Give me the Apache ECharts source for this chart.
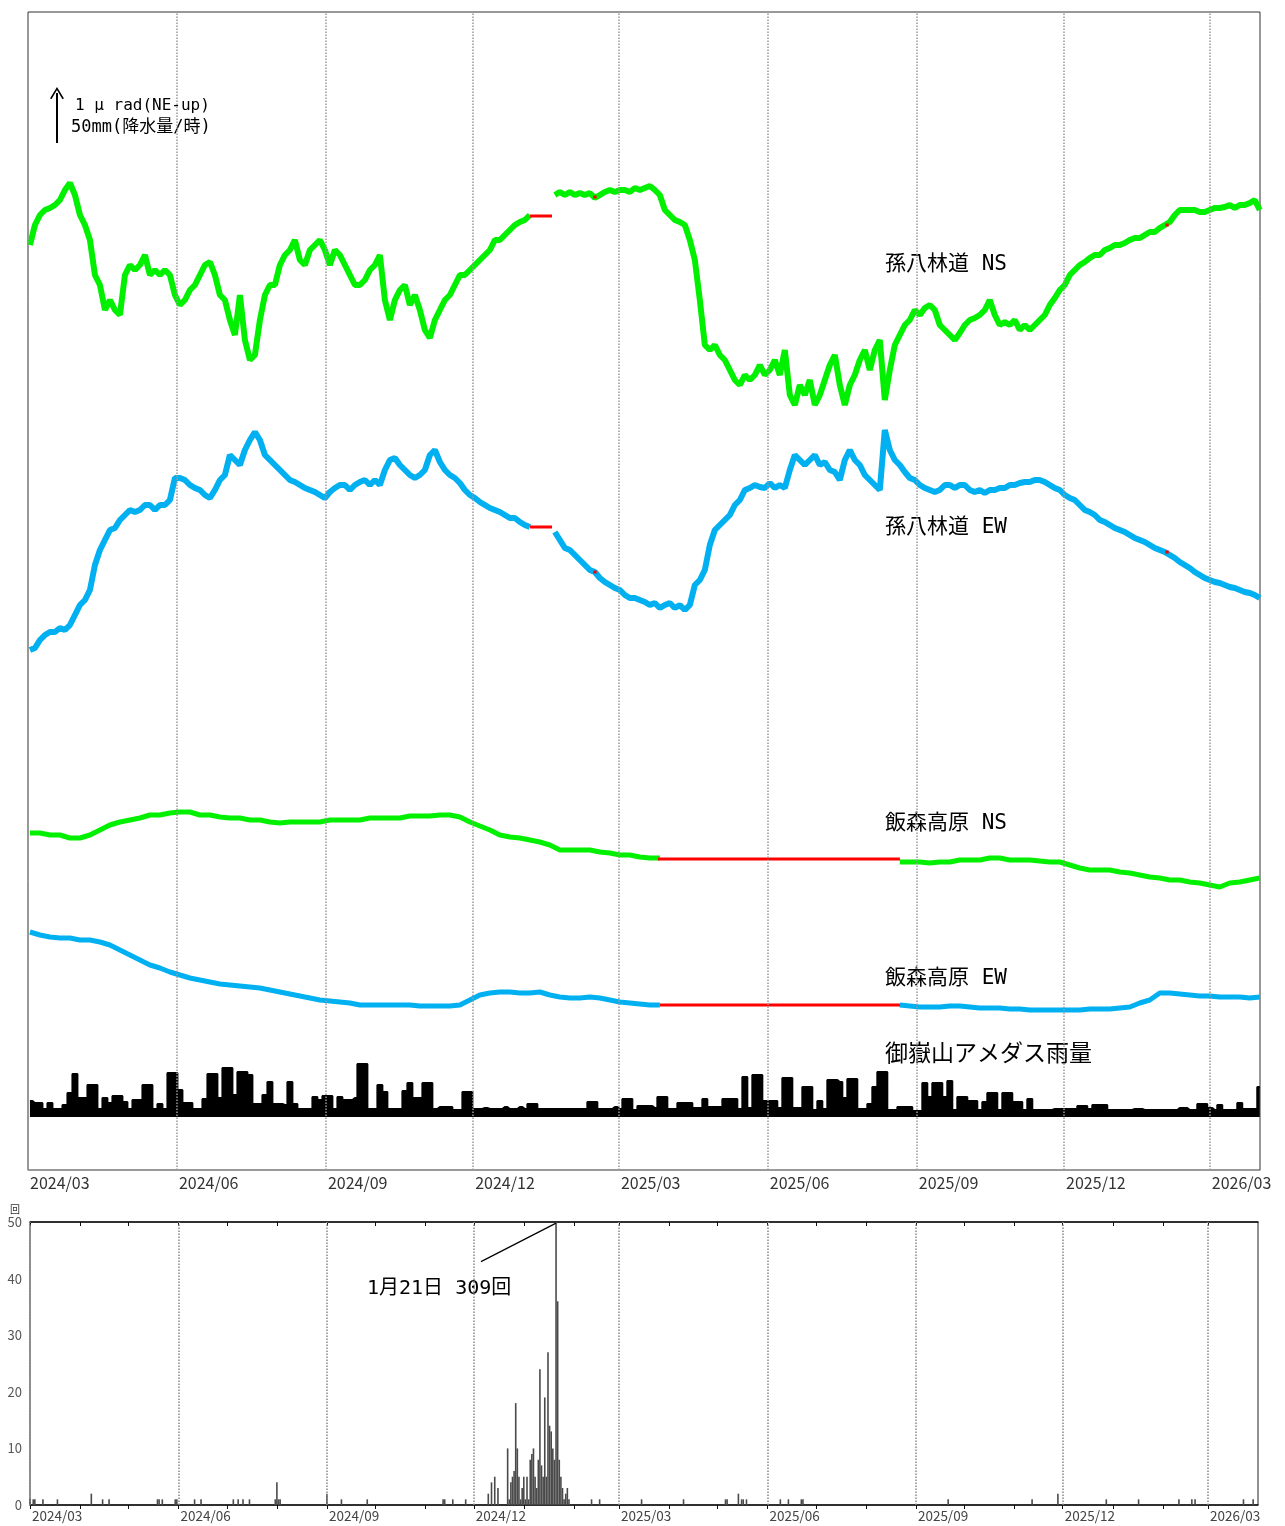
<!DOCTYPE html>
<html><head><meta charset="utf-8">
<script src="https://cdn.jsdelivr.net/npm/echarts@6/dist/echarts.min.js"></script>
<style>html,body{margin:0;padding:0;background:#fff}#c{width:1285px;height:1526px}</style>
</head><body><div id="c"></div><script>
// ---- time axis: days since 2024-03-01 ----
const QUARTER_DAYS = [0, 92, 184, 275, 365, 457, 549, 640, 730];
const QUARTER_LABELS = ['2024/03','2024/06','2024/09','2024/12','2025/03','2025/06','2025/09','2025/12','2026/03'];
const MONTH_DAYS = [0,31,61,92,122,153,184,214,245,275,306,337,365,396,426,457,487,518,549,579,610,640,671,702,730];
const X_MAX = 761;

// sampling of the tilt / rain records (days)
const T0 = 1.2, STEP_FINE = 3.088, STEP_COARSE = 6.176;

// 孫八林道 NS (μrad, relative)
const sonNS = [
3.50,3.90,4.10,4.20,4.24,4.30,4.40,4.60,4.74,4.50,
4.10,3.90,3.60,2.90,2.70,2.20,2.40,2.20,2.10,2.90,
3.10,3.00,3.10,3.30,2.90,3.00,2.90,3.00,2.90,2.50,
2.30,2.40,2.60,2.70,2.90,3.10,3.16,2.90,2.50,2.40,
2.00,1.70,2.50,1.60,1.20,1.30,2.00,2.50,2.70,2.70,
3.10,3.30,3.40,3.60,3.20,3.10,3.40,3.50,3.60,3.40,
3.10,3.40,3.30,3.10,2.90,2.70,2.70,2.80,3.00,3.10,
3.30,2.40,2.00,2.40,2.60,2.70,2.30,2.50,2.20,1.80,
1.64,2.00,2.20,2.40,2.50,2.70,2.90,2.90,3.00,3.10,
3.20,3.30,3.40,3.60,3.60,3.70,3.80,3.90,3.96,4.00,
4.10,null,null,null,null,4.50,4.56,4.50,4.56,4.50,
4.54,4.50,4.54,4.44,4.50,4.56,4.60,4.56,4.60,4.60,
4.56,4.64,4.60,4.64,4.68,4.60,4.50,4.20,4.10,4.00,
3.96,3.90,3.60,3.20,2.40,1.50,1.40,1.50,1.30,1.20,
1.00,0.80,0.70,0.90,0.80,0.90,1.10,0.90,1.00,1.20,
0.90,1.40,0.50,0.30,0.70,0.50,0.80,0.30,0.50,0.80,
1.10,1.30,0.70,0.30,0.70,0.90,1.20,1.40,1.00,1.40,
1.60,0.40,1.00,1.50,1.70,1.90,2.00,2.20,2.10,2.24,
2.30,2.20,1.90,1.80,1.70,1.60,1.74,1.90,2.00,2.04,
2.10,2.20,2.40,2.10,1.90,1.96,1.90,2.00,1.80,1.90,
1.80,1.90,2.00,2.10,2.30,2.44,2.60,2.70,2.90,3.00,
3.10,3.16,3.24,3.30,3.30,3.40,3.44,3.50,3.50,3.54,
3.60,3.64,3.64,3.70,3.76,3.76,3.84,3.90,3.96,4.10,
4.20,4.20,4.20,4.20,4.16,4.16,4.20,4.24,4.24,4.26,
4.30,4.24,4.30,4.30,4.34,4.40,4.20];

// 孫八林道 EW
const sonEW = [
0.20,0.24,0.40,0.50,0.56,0.56,0.64,0.60,0.70,0.90,
1.10,1.20,1.40,1.90,2.20,2.40,2.60,2.64,2.80,2.90,
3.00,2.96,3.00,3.10,3.10,3.00,3.10,3.10,3.20,3.64,
3.64,3.60,3.50,3.44,3.40,3.30,3.24,3.40,3.60,3.70,
4.10,4.00,3.90,4.20,4.40,4.56,4.40,4.10,4.00,3.90,
3.80,3.70,3.60,3.56,3.50,3.44,3.40,3.36,3.30,3.24,
3.36,3.44,3.50,3.50,3.40,3.50,3.56,3.60,3.50,3.60,
3.50,3.80,4.00,4.04,3.90,3.80,3.70,3.64,3.70,3.80,
4.10,4.20,3.96,3.80,3.70,3.64,3.54,3.40,3.30,3.24,
3.16,3.10,3.04,3.00,2.96,2.90,2.84,2.84,2.76,2.70,
2.66,null,null,null,null,2.56,2.40,2.24,2.20,2.10,
2.00,1.90,1.80,1.76,1.64,1.56,1.50,1.44,1.40,1.30,
1.24,1.24,1.20,1.16,1.10,1.14,1.04,1.10,1.14,1.04,
1.10,1.00,1.10,1.50,1.60,1.80,2.30,2.60,2.70,2.80,
2.90,3.10,3.20,3.40,3.44,3.50,3.46,3.44,3.54,3.44,
3.50,3.44,3.80,4.10,4.00,3.90,4.00,4.10,3.90,3.96,
3.80,3.76,3.60,4.00,4.20,4.00,3.90,3.70,3.60,3.50,
3.40,4.60,4.20,4.00,3.90,3.76,3.64,3.60,3.50,3.44,
3.40,3.36,3.40,3.50,3.50,3.44,3.50,3.50,3.40,3.36,
3.40,3.34,3.40,3.40,3.44,3.44,3.50,3.50,3.54,3.56,
3.56,3.60,3.60,3.56,3.50,3.44,3.40,3.30,3.24,3.20,
3.10,3.00,2.96,2.90,2.80,2.76,2.70,2.64,2.60,2.56,
2.50,2.44,2.40,2.36,2.30,2.24,2.20,2.16,2.10,2.04,
1.96,1.90,1.84,1.76,1.70,1.64,1.60,1.56,1.54,1.50,
1.46,1.44,1.40,1.36,1.34,1.30,1.24];

// 飯森高原 NS
const iiNS = [
1.34,1.34,1.30,1.30,1.24,1.24,1.30,1.40,1.50,1.56,
1.60,1.64,1.70,1.70,1.74,1.76,1.76,1.70,1.70,1.66,
1.64,1.64,1.60,1.60,1.56,1.54,1.56,1.56,1.56,1.56,
1.60,1.60,1.60,1.60,1.64,1.64,1.64,1.64,1.68,1.68,
1.68,1.70,1.70,1.66,1.56,1.48,1.40,1.30,1.26,1.24,
1.20,1.16,1.10,1.00,1.00,1.00,1.00,0.96,0.94,0.90,
0.90,0.86,0.84,0.84,null,null,null,null,null,null,
null,null,null,null,null,null,null,null,null,null,
null,null,null,null,null,null,null,0.76,0.76,0.76,
0.74,0.76,0.76,0.80,0.80,0.80,0.84,0.84,0.80,0.80,
0.80,0.78,0.76,0.76,0.70,0.64,0.60,0.60,0.60,0.56,
0.54,0.50,0.46,0.44,0.40,0.40,0.36,0.34,0.30,0.26,
0.34,0.36,0.40,0.44];

// 飯森高原 EW
const iiEW = [
1.76,1.70,1.66,1.64,1.64,1.60,1.60,1.56,1.50,1.40,
1.30,1.20,1.10,1.04,0.96,0.90,0.84,0.80,0.76,0.72,
0.70,0.68,0.66,0.64,0.60,0.56,0.52,0.48,0.44,0.40,
0.38,0.36,0.34,0.30,0.30,0.30,0.30,0.30,0.30,0.28,
0.28,0.28,0.28,0.30,0.40,0.50,0.54,0.56,0.56,0.54,
0.54,0.56,0.50,0.46,0.44,0.44,0.46,0.44,0.40,0.36,
0.34,0.32,0.30,0.30,null,null,null,null,null,null,
null,null,null,null,null,null,null,null,null,null,
null,null,null,null,null,null,null,0.30,0.28,0.26,
0.26,0.26,0.28,0.28,0.26,0.24,0.24,0.24,0.22,0.22,
0.20,0.20,0.20,0.20,0.20,0.20,0.22,0.22,0.22,0.24,
0.26,0.34,0.40,0.54,0.54,0.52,0.50,0.48,0.48,0.46,
0.46,0.46,0.44,0.46];

// 御嶽山アメダス雨量 (mm/h)
const rain = [
16,14,14,8,14,8,8,12,24,43,
19,19,32,32,8,19,14,21,21,15,
8,17,17,32,32,8,13,8,44,44,
27,14,14,8,8,18,43,43,19,49,
49,22,45,45,42,13,13,22,35,13,
13,12,35,13,8,8,8,20,17,21,
21,8,20,17,17,19,53,53,8,8,
32,25,8,8,8,26,34,19,19,34,
34,8,10,10,10,7,7,25,25,8,
8,9,8,8,8,10,8,8,10,8,
13,13,8,8,8,8,8,8,8,8,
8,8,15,15,8,8,8,10,8,18,
18,7,11,11,11,9,20,20,8,8,
14,14,14,9,9,18,10,10,10,18,
18,18,8,40,9,42,42,16,16,16,
9,39,39,9,9,30,30,7,16,8,
37,37,35,19,38,38,8,8,13,30,
45,45,7,7,10,10,10,6,6,34,
20,34,34,20,36,7,20,20,16,16,
7,15,24,24,7,24,24,15,15,7,
18,7,7,7,7,8,8,8,8,8,
11,11,8,12,12,12,7,7,7,7,
7,8,8,7,7,7,7,7,7,7,
9,9,7,7,13,13,9,7,12,7,
7,7,14,8,8,8,30];

// data gaps (drawn red): [fromDay, toDay, level μrad]
const gapSonNS = [[310.1, 323.7, 4.08], [349.2, 351.2, 4.46], [702.6, 704.6, 3.90]];
const gapSonEW = [[310.1, 323.7, 2.66], [349.2, 351.2, 1.76], [702.6, 704.6, 2.16]];
const gapIiNS = [[389.1, 538.6, 0.82]];
const gapIiEW = [[390.3, 538.6, 0.30]];

// earthquake counts per day
const quakeDays = [0,2,3,8,17,38,45,49,79,80,82,90,91,102,106,126,129,132,136,152,153,154,155,184,193,209,256,257,262,270,
284,286,288,290,296,297,298,299,300,301,302,303,304,305,306,307,308,309,310,311,312,313,314,315,316,317,318,319,320,
321,322,323,324,325,326,327,328,329,330,331,332,333,334,348,353,379,405,431,432,439,441,442,444,465,470,478,479,569,
621,637,667,687,712,720,722,752,758];
const quakeCounts = [1,1,1,1,1,2,1,1,1,1,1,1,1,1,1,1,1,1,1,1,4,1,1,2,1,1,1,1,1,1,
2,4,5,3,10,1,4,5,6,18,10,5,1,3,5,1,5,1,8,9,10,5,3,8,24,7,5,19,5,
27,14,13,10,8,309,36,8,5,3,1,2,3,1,1,1,1,1,1,1,2,1,1,1,1,1,1,1,1,
1,2,1,1,1,1,1,1,1];

// plot offsets (μrad) for stacking the traces
const OFF = { sonNS: 15.0, sonEW: 10.2, iiNS: 5.4, iiEW: 3.0 };
const GREEN = '#00f000', BLUE = '#00b0f0', RED = '#ff0000';

function build(arr, step, off) {
  return arr.map((v, i) => [T0 + i * step, v === null ? '-' : +(v + off).toFixed(3)]);
}
function gapSeries(gaps, off) {
  return gaps.map(g => ({
    type: 'line', xAxisIndex: 0, yAxisIndex: 0, symbol: 'none', z: 4,
    lineStyle: { color: RED, width: 3 }, silent: true,
    data: [[g[0], g[2] + off], [g[1], g[2] + off]]
  }));
}
const labelFmt = v => { const k = QUARTER_DAYS.indexOf(Math.round(v)); return k >= 0 ? QUARTER_LABELS[k] : ''; };
const gridMark = {
  silent: true, symbol: 'none', label: { show: false },
  lineStyle: { color: '#999', type: 'dotted', width: 1.5 },
  data: QUARTER_DAYS.map(d => ({ xAxis: d }))
};
const FONT = '"Noto Sans CJK JP", "Noto Sans", sans-serif';
const MONO = '"DejaVu Sans Mono", "Noto Sans CJK JP", monospace';

const chart = echarts.init(document.getElementById('c'), null, { renderer: 'canvas' });
chart.setOption({
  animation: false,
  backgroundColor: '#fff',
  textStyle: { fontFamily: FONT },
  grid: [
    { left: 28, right: 25, top: 12, height: 1158, show: true, borderColor: '#333', borderWidth: 1 },
    { left: 30, right: 27, top: 1222, height: 283, show: true, borderColor: '#222', borderWidth: 1 }
  ],
  xAxis: [
    { gridIndex: 0, type: 'value', min: 0, max: X_MAX,
      axisLine: { lineStyle: { color: '#999' } }, axisTick: { show: false }, splitLine: { show: false },
      axisLabel: { customValues: QUARTER_DAYS, formatter: labelFmt, align: 'left', margin: 5,
        padding: [0, 0, 0, 2], fontSize: 16, color: '#333', fontFamily: FONT } },
    { gridIndex: 1, type: 'value', min: 0, max: X_MAX, position: 'bottom',
      axisLine: { lineStyle: { color: '#111', width: 1.5 } },
      axisTick: { customValues: MONTH_DAYS, length: 4, lineStyle: { color: '#111' } },
      splitLine: { show: false },
      axisLabel: { customValues: QUARTER_DAYS, formatter: labelFmt, align: 'left', margin: 4,
        padding: [0, 0, 0, 2], fontSize: 13.5, color: '#444', fontFamily: FONT } },
    { gridIndex: 1, type: 'value', min: 0, max: X_MAX, position: 'top',
      axisLine: { lineStyle: { color: '#111', width: 1.5 } },
      axisTick: { customValues: MONTH_DAYS, inside: true, length: 4, lineStyle: { color: '#111' } },
      axisLabel: { show: false }, splitLine: { show: false } }
  ],
  yAxis: [
    { gridIndex: 0, type: 'value', min: 0, max: 23.16, show: false },
    { gridIndex: 0, type: 'value', min: -53, max: 1105, show: false },
    { gridIndex: 1, type: 'value', min: 0, max: 50, interval: 10,
      axisLine: { show: false }, axisTick: { show: false }, splitLine: { show: false },
      axisLabel: { fontSize: 13, color: '#555', margin: 8, fontFamily: FONT } }
  ],
  series: [
    { name: 'rain', type: 'line', xAxisIndex: 0, yAxisIndex: 1, step: 'middle', symbol: 'none', z: 2,
      lineStyle: { color: '#000', width: 2 }, areaStyle: { color: '#000', opacity: 1 },
      data: build(rain, STEP_FINE, 0), markLine: gridMark },
    { name: 'sonNS', type: 'line', xAxisIndex: 0, yAxisIndex: 0, symbol: 'none', z: 3,
      lineStyle: { color: GREEN, width: 6 }, data: build(sonNS, STEP_FINE, OFF.sonNS),
      markLine: { silent: true, label: { show: false }, lineStyle: { color: '#000', width: 2, type: 'solid' },
        data: [[{ coord: [17.9, 20.54], symbol: 'none' },
                { coord: [17.9, 21.54], symbol: 'path://M0,12 L6,0 L12,12 L10.6,12.6 L6,3.2 L1.4,12.6 Z', symbolSize: [14, 12] }]] } },
    { name: 'sonEW', type: 'line', xAxisIndex: 0, yAxisIndex: 0, symbol: 'none', z: 3,
      lineStyle: { color: BLUE, width: 6 }, data: build(sonEW, STEP_FINE, OFF.sonEW) },
    { name: 'iiNS', type: 'line', xAxisIndex: 0, yAxisIndex: 0, symbol: 'none', z: 3,
      lineStyle: { color: GREEN, width: 5 }, data: build(iiNS, STEP_COARSE, OFF.iiNS) },
    { name: 'iiEW', type: 'line', xAxisIndex: 0, yAxisIndex: 0, symbol: 'none', z: 3,
      lineStyle: { color: BLUE, width: 5 }, data: build(iiEW, STEP_COARSE, OFF.iiEW) },
    ...gapSeries(gapSonNS, OFF.sonNS),
    ...gapSeries(gapSonEW, OFF.sonEW),
    ...gapSeries(gapIiNS, OFF.iiNS),
    ...gapSeries(gapIiEW, OFF.iiEW),
    { name: 'quakes', type: 'bar', xAxisIndex: 1, yAxisIndex: 2, barWidth: 1.6, clip: true,
      itemStyle: { color: '#4a4a4a' },
      data: quakeDays.map((d, i) => [d, quakeCounts[i]]),
      markLine: { silent: true, symbol: 'none', label: { show: false },
        data: [
          ...QUARTER_DAYS.map(d => ({ xAxis: d, lineStyle: { color: '#888', type: 'dotted', width: 1.5 } })),
          [{ coord: [326, 49.8], lineStyle: { color: '#000', width: 1.2, type: 'solid' } }, { coord: [279.5, 43] }]
        ] } }
  ],
  graphic: [
    { type: 'text', left: 75, top: 98, style: { text: '1 μ rad(NE-up)', font: '16px ' + MONO, fill: '#000' } },
    { type: 'text', left: 71, top: 119, style: { text: '50mm(降水量/時)', font: '17px ' + MONO, fill: '#000' } },
    { type: 'text', left: 885, top: 254, style: { text: '孫八林道 NS', font: '21px ' + MONO, fill: '#000' } },
    { type: 'text', left: 885, top: 517, style: { text: '孫八林道 EW', font: '21px ' + MONO, fill: '#000' } },
    { type: 'text', left: 885, top: 813, style: { text: '飯森高原 NS', font: '21px ' + MONO, fill: '#000' } },
    { type: 'text', left: 885, top: 968, style: { text: '飯森高原 EW', font: '21px ' + MONO, fill: '#000' } },
    { type: 'text', left: 885, top: 1041, style: { text: '御嶽山アメダス雨量', font: '23px ' + FONT, fill: '#000' } },
    { type: 'text', left: 367, top: 1279, style: { text: '1月21日 309回', font: '20px ' + MONO, fill: '#000' } },
    { type: 'text', left: 10, top: 1204, style: { text: '回', font: '10px ' + FONT, fill: '#333' } }
  ]
});
</script></body></html>
